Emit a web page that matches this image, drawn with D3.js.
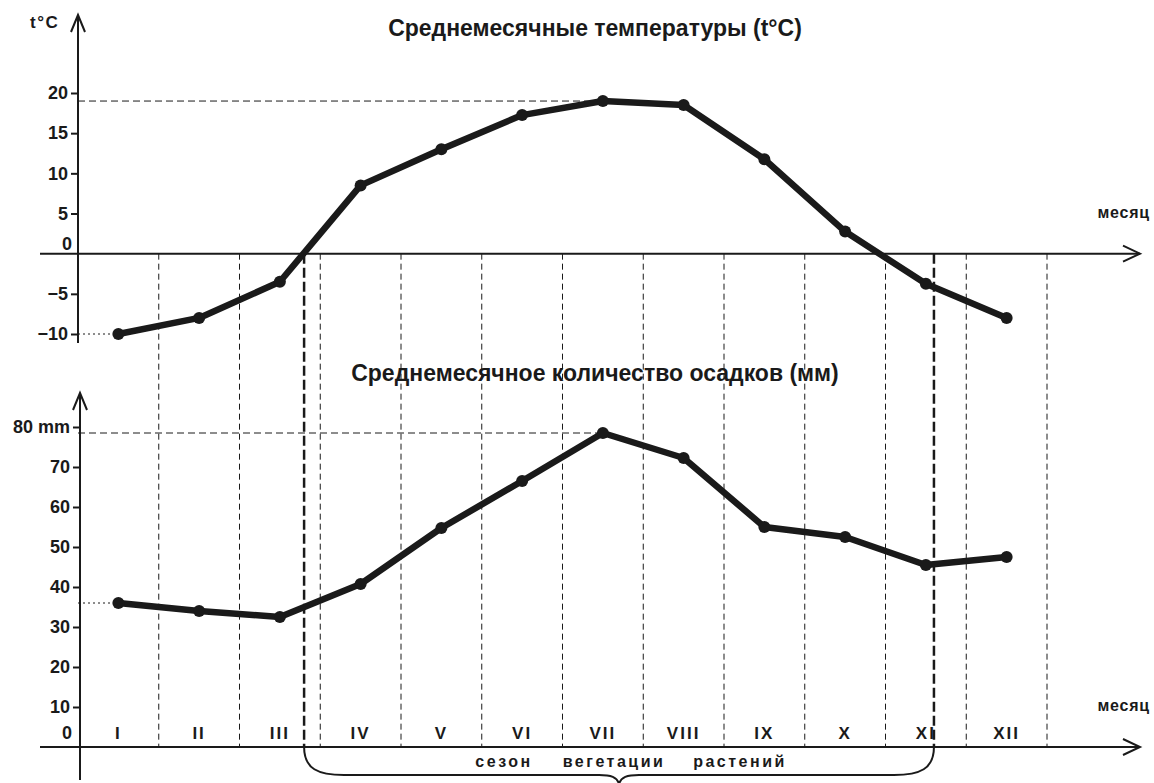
<!DOCTYPE html>
<html>
<head>
<meta charset="utf-8">
<script src="https://cdn.jsdelivr.net/npm/d3@7"></script>
<style>
  body { margin: 0; background: #fff; }
  svg { display: block; }
  text { font-family: "Liberation Sans", Arial, sans-serif; font-weight: bold; fill: #1a1a1a; }
</style>
</head>
<body>
<div id="chart"></div>
<script>
// mesi
const months = ["I", "II", "III", "IV", "V", "VI", "VII", "VIII", "IX", "X", "XI", "XII"];
// temperatura media mensile
const temps = [-10, -8, -3.5, 8.5, 13, 17.25, 19, 18.5, 11.75, 2.75, -3.75, -8];
// precipitazioni medie mensili
const rain = [36, 34, 32.5, 40.75, 54.75, 66.5, 78.5, 72.25, 55, 52.5, 45.5, 47.5];
const tempTicks = [-10, -5, 5, 10, 15, 20];
const rainTicks = [10, 20, 30, 40, 50, 60, 70, 80];
// stagione vegetativa (in unità di mese)
const season = [2.8, 10.6];
const seasonWords = ["сезон", "вегетации", "растений"];

const W = 1154, H = 783;
const ink = "#1a1a1a";

const svg = d3.select("#chart").append("svg")
  .attr("width", W).attr("height", H);

const x = d3.scaleLinear().domain([0, 12]).range([78, 1047]);
const yT = d3.scaleLinear().domain([-10, 20]).range([334, 93]);
const yR = d3.scaleLinear().domain([0, 80]).range([747, 427]);

const axT = 78, axR = 80;

// griglia verticale tratteggiata
svg.append("g")
  .selectAll("line")
  .data(d3.range(1, 13))
  .enter()
  .append("line")
  .attr("x1", d => x(d)).attr("x2", d => x(d))
  .attr("y1", yT(0)).attr("y2", yR(0))
  .attr("stroke", ink).attr("stroke-width", 1)
  .attr("stroke-dasharray", "6,4");

// linee spesse della stagione
svg.append("g")
  .selectAll("line")
  .data(season)
  .enter()
  .append("line")
  .attr("x1", d => x(d)).attr("x2", d => x(d))
  .attr("y1", yT(0)).attr("y2", yR(0))
  .attr("stroke", ink).attr("stroke-width", 2.5)
  .attr("stroke-dasharray", "10,4");

// linee di riferimento orizzontali
function refLine(xv, yv, dash) {
  svg.append("line")
    .attr("x1", axT).attr("x2", xv)
    .attr("y1", yv).attr("y2", yv)
    .attr("stroke", ink).attr("stroke-width", 1)
    .attr("stroke-dasharray", dash);
}
refLine(x(6.5), yT(temps[6]), "7,4");
refLine(x(0.5), yT(temps[0]), "2,3");
refLine(x(6.5), yR(rain[6]), "7,4");
refLine(x(0.5), yR(rain[0]), "2,3");

// assi con freccia
function arrowAxis(x1, y1, x2, y2, dir) {
  svg.append("line")
    .attr("x1", x1).attr("y1", y1).attr("x2", x2).attr("y2", y2)
    .attr("stroke", ink).attr("stroke-width", 2);
  let pts;
  if (dir === "up") pts = [[x2 - 7, y2 + 17], [x2, y2], [x2 + 7, y2 + 17]];
  else pts = [[x2 - 17, y2 - 8], [x2, y2], [x2 - 17, y2 + 8]];
  svg.append("path")
    .attr("d", d3.line()(pts))
    .attr("fill", "none").attr("stroke", ink).attr("stroke-width", 2);
}
arrowAxis(axT, 343, axT, 15, "up");
arrowAxis(40, yT(0), 1140, yT(0), "right");
arrowAxis(axR, 780, axR, 393, "up");
arrowAxis(40, yR(0), 1140, yR(0), "right");

function styleTicks(g) {
  g.select(".domain").remove();
  g.selectAll(".tick line").attr("stroke", ink).attr("stroke-width", 2);
  g.selectAll(".tick text").attr("font-size", 18).attr("fill", ink)
    .style("font-family", "Liberation Sans, Arial, sans-serif").style("font-weight", "bold");
}

// tick asse y temperatura
const gT = svg.append("g")
  .attr("transform", `translate(${axT},0)`)
  .call(d3.axisLeft(yT).tickValues(tempTicks).tickSize(7).tickPadding(3)
    .tickFormat(d => d < 0 ? "\u2212" + Math.abs(d) : d));
styleTicks(gT);

svg.append("text").attr("x", 72).attr("y", yT(0) - 4)
  .attr("text-anchor", "end").attr("font-size", 18).text("0");
svg.append("text").attr("x", 30).attr("y", 28)
  .attr("font-size", 17).attr("letter-spacing", 1.5).text("t°C");

// tick asse y precipitazioni
const gR = svg.append("g")
  .attr("transform", `translate(${axR},0)`)
  .call(d3.axisLeft(yR).tickValues(rainTicks).tickSize(7).tickPadding(3)
    .tickFormat(d => d === 80 ? "80 mm" : d));
styleTicks(gR);

svg.append("text").attr("x", 72).attr("y", yR(0) - 8)
  .attr("text-anchor", "end").attr("font-size", 18).text("0");

// etichette mesi
svg.append("g")
  .selectAll("text")
  .data(months)
  .enter()
  .append("text")
  .attr("x", (d, i) => x(i + 0.5))
  .attr("y", yR(0) - 8)
  .attr("text-anchor", "middle")
  .attr("font-size", 17)
  .attr("letter-spacing", 2)
  .text(d => d);

svg.append("text").attr("x", 1150).attr("y", 218)
  .attr("text-anchor", "end").attr("font-size", 16).attr("letter-spacing", 0.8).text("месяц");
svg.append("text").attr("x", 1150).attr("y", 711)
  .attr("text-anchor", "end").attr("font-size", 16).attr("letter-spacing", 0.8).text("месяц");

// titoli
svg.append("text").attr("x", 595).attr("y", 36)
  .attr("text-anchor", "middle").attr("font-size", 23)
  .text("Среднемесячные температуры (t°C)");
svg.append("text").attr("x", 595).attr("y", 381)
  .attr("text-anchor", "middle").attr("font-size", 23)
  .text("Среднемесячное количество осадков (мм)");

// serie
function drawSeries(data, y) {
  const line = d3.line()
    .x((d, i) => x(i + 0.5))
    .y(d => y(d));
  svg.append("path")
    .datum(data)
    .attr("d", line)
    .attr("fill", "none")
    .attr("stroke", ink)
    .attr("stroke-width", 6.5)
    .attr("stroke-linejoin", "round")
    .attr("stroke-linecap", "round");
  svg.append("g")
    .selectAll("circle")
    .data(data)
    .enter()
    .append("circle")
    .attr("cx", (d, i) => x(i + 0.5))
    .attr("cy", d => y(d))
    .attr("r", 6)
    .attr("fill", ink);
}
drawSeries(temps, yT);
drawSeries(rain, yR);

// parentesi graffa della stagione
const bx0 = x(season[0]), bx1 = x(season[1]);
const bm = (bx0 + bx1) / 2, by = yR(0), bh = 775;
const brace = d3.path();
brace.moveTo(bx0, by);
brace.bezierCurveTo(bx0, bh - 6, bx0 + 14, bh, bx0 + 40, bh);
brace.lineTo(bm - 20, bh);
brace.bezierCurveTo(bm - 8, bh, bm - 2, bh + 2, bm, bh + 9);
brace.bezierCurveTo(bm + 2, bh + 2, bm + 8, bh, bm + 20, bh);
brace.lineTo(bx1 - 40, bh);
brace.bezierCurveTo(bx1 - 14, bh, bx1, bh - 6, bx1, by);
svg.append("path")
  .attr("d", brace.toString())
  .attr("fill", "none").attr("stroke", ink).attr("stroke-width", 2);

svg.append("g")
  .selectAll("text")
  .data(seasonWords)
  .enter()
  .append("text")
  .attr("x", (d, i) => [504, 614, 740][i])
  .attr("y", 767)
  .attr("text-anchor", "middle")
  .attr("font-size", 16)
  .attr("letter-spacing", 2.5)
  .text(d => d);
</script>
</body>
</html>
